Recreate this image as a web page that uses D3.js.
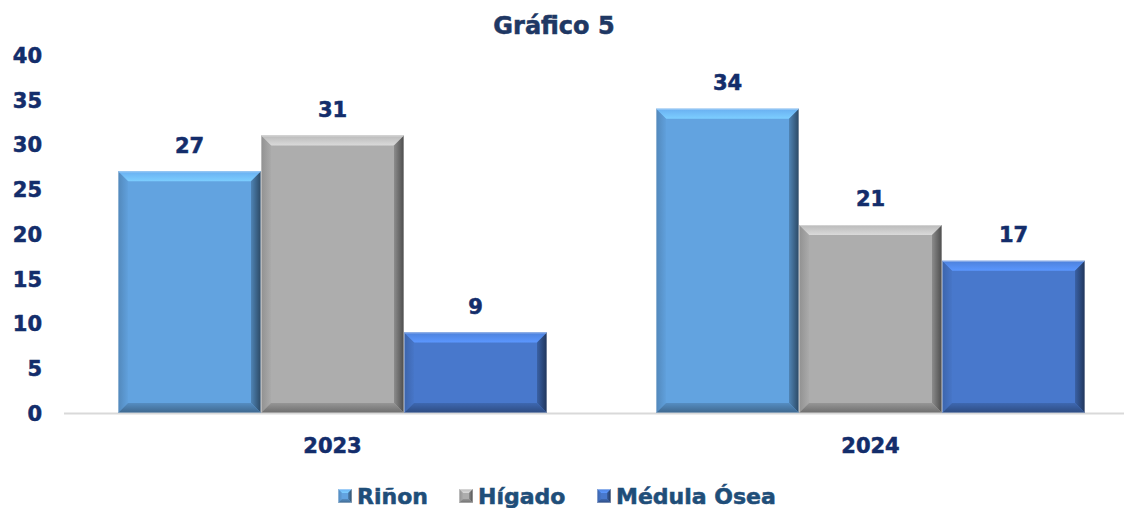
<!DOCTYPE html>
<html>
<head>
<meta charset="utf-8">
<script src="https://cdn.jsdelivr.net/npm/d3@7"></script>
<style>
  body { margin: 0; background: #fff; }
  svg { display: block; font-family: "DejaVu Sans", sans-serif; }
</style>
</head>
<body>
<div id="chart"></div>
<script>
var width = 1124;
var height = 508;

var years = ['2023', '2024'];
var organs = ['Riñon', 'Hígado', 'Médula Ósea'];
var rinon = [27, 34];
var higado = [31, 21];
var medula = [9, 17];
var yTicks = [0, 5, 10, 15, 20, 25, 30, 35, 40];

var colors = ['#62a3e0', '#adadad', '#4878cc'];
var textColor = '#132d6b';
var fontFam = '"DejaVu Sans", sans-serif';

var series = [rinon, higado, medula];

var svg = d3.select('#chart').append('svg')
  .attr('width', width)
  .attr('height', height);

var xScale = d3.scaleBand()
  .domain(years)
  .range([63.5, 1139.5])
  .paddingInner(0.2026)
  .paddingOuter(0.1013);

var subScale = d3.scaleBand()
  .domain(organs)
  .range([0, xScale.bandwidth()]);

var yScale = d3.scaleLinear()
  .domain([0, 40])
  .range([413, 55]);

// heavier text, closer to the original extra-bold face
function heavy(sel, col) {
  sel.attr('font-weight', 'bold')
    .attr('fill', col)
    .attr('stroke', col)
    .attr('stroke-width', 0.55)
    .attr('font-family', fontFam);
}

// title
svg.append('text')
  .attr('x', 554).attr('y', 34)
  .attr('text-anchor', 'middle')
  .attr('font-size', 24)
  .call(heavy, '#1f3864')
  .text('Gráfico 5');

// y labels
var yAxis = d3.axisLeft(yScale).tickValues(yTicks).tickSize(0).tickPadding(0);
var gy = svg.append('g')
  .attr('transform', 'translate(42,0)')
  .call(yAxis);
gy.select('.domain').remove();
gy.selectAll('text')
  .attr('font-size', 21)
  .call(heavy, textColor)
  .attr('dy', '0.35em');

// baseline
svg.append('line')
  .attr('x1', 64).attr('x2', width)
  .attr('y1', yScale(0) + 0.5).attr('y2', yScale(0) + 0.5)
  .attr('stroke', '#d9d9d9').attr('stroke-width', 2);

// x labels
var xAxis = d3.axisBottom(xScale).tickSize(0).tickPadding(0);
var gx = svg.append('g')
  .attr('transform', 'translate(0,446)')
  .call(xAxis);
gx.select('.domain').remove();
gx.selectAll('text')
  .attr('font-size', 21)
  .call(heavy, textColor)
  .attr('dy', '0.35em');

var defs = svg.append('defs');
function grad(id, x2, y2, c1, c2) {
  var g = defs.append('linearGradient').attr('id', id)
    .attr('x1', 0).attr('y1', 0).attr('x2', x2).attr('y2', y2);
  g.append('stop').attr('offset', 0).attr('stop-color', c1);
  g.append('stop').attr('offset', 1).attr('stop-color', c2);
}
colors.forEach(function (c, i) {
  var b = d3.color(c);
  grad('top' + i, 0, 1, b.brighter(0.2), b.brighter(0.65));
  grad('left' + i, 1, 0, b.darker(0.5), b.darker(0.05));
  grad('right' + i, 1, 0, b.darker(0.6), b.darker(2.3));
  grad('bot' + i, 0, 1, b.darker(0.4), b.darker(1.3));
});

// bevel bar
function bevelBar(g, x, y, w, h, i, bev) {
  var b = Math.min(bev, h / 2);
  var base = d3.color(colors[i]);
  g.append('rect').attr('x', x).attr('y', y).attr('width', w).attr('height', h)
    .attr('fill', base);
  var pts = function (arr) { return arr.map(function (p) { return p.join(','); }).join(' '); };
  g.append('polygon')
    .attr('points', pts([[x, y], [x + w, y], [x + w - b, y + b], [x + b, y + b]]))
    .attr('fill', 'url(#top' + i + ')');
  g.append('polygon')
    .attr('points', pts([[x, y], [x + b, y + b], [x + b, y + h - b], [x, y + h]]))
    .attr('fill', 'url(#left' + i + ')');
  g.append('polygon')
    .attr('points', pts([[x + w, y], [x + w, y + h], [x + w - b, y + h - b], [x + w - b, y + b]]))
    .attr('fill', 'url(#right' + i + ')');
  g.append('polygon')
    .attr('points', pts([[x, y + h], [x + b, y + h - b], [x + w - b, y + h - b], [x + w, y + h]]))
    .attr('fill', 'url(#bot' + i + ')');
  g.append('rect').attr('x', x + 0.5).attr('y', y + 0.5).attr('width', w - 1).attr('height', h - 1)
    .attr('fill', 'none').attr('stroke', '#ffffff').attr('stroke-opacity', 0.35);
}

var bars = svg.append('g');
series.forEach(function (vals, si) {
  vals.forEach(function (v, yi) {
    var x = xScale(years[yi]) + subScale(organs[si]);
    var y = yScale(v);
    var h = yScale(0) - y;
    bevelBar(bars.append('g'), x, y, subScale.bandwidth(), h, si, 10);
    svg.append('text')
      .attr('x', x + subScale.bandwidth() / 2)
      .attr('y', y - 26)
      .attr('dy', '0.35em')
      .attr('text-anchor', 'middle')
      .attr('font-size', 21)
      .call(heavy, textColor)
      .text(v);
  });
});

// legend
var legendX = [338, 459, 597];
var legend = svg.append('g');
organs.forEach(function (name, i) {
  var lg = legend.append('g').attr('transform', 'translate(' + legendX[i] + ',489)');
  bevelBar(lg, 0, 0, 14, 14, i, 4);
  lg.append('text')
    .attr('x', 19).attr('y', 7)
    .attr('dy', '0.35em')
    .attr('font-size', 22)
    .call(heavy, '#1f4e79')
    .text(name);
});
</script>
</body>
</html>
